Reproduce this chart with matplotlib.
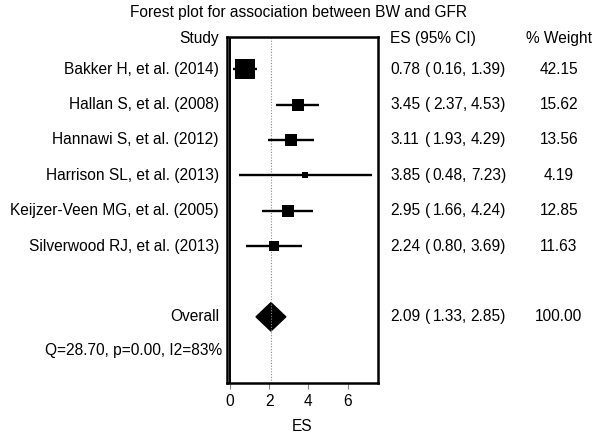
import matplotlib
matplotlib.use("Agg")
import matplotlib.pyplot as plt
from matplotlib.patches import Polygon
import numpy as np

studies = ["Bakker H, et al. (2014)", "Hallan S, et al. (2008)", "Hannawi S, et al. (2012)",
           "Harrison SL, et al. (2013)", "Keijzer-Veen MG, et al. (2005)", "Silverwood RJ, et al. (2013)"]
es = [0.78, 3.45, 3.11, 3.85, 2.95, 2.24]
lo = [0.16, 2.37, 1.93, 0.48, 1.66, 0.80]
hi = [1.39, 4.53, 4.29, 7.23, 4.24, 3.69]
weights = [42.15, 15.62, 13.56, 4.19, 12.85, 11.63]
overall = (2.09, 1.33, 2.85)
overall_weight = 100.00
het_text = "Q=28.70, p=0.00, I2=83%"
title = "Forest plot for association between BW and GFR"
xticks = [0, 2, 4, 6]

W, H = 598, 443
plt.rcParams['font.family'] = ['Liberation Sans', 'DejaVu Sans']
fig = plt.figure(figsize=(W / 100, H / 100), dpi=100)

ax_l, ax_r, ax_t, ax_b = 227, 378, 37, 383
ax = fig.add_axes([ax_l / W, 1 - ax_b / H, (ax_r - ax_l) / W, (ax_b - ax_t) / H])

y_rows = np.arange(1, len(studies) + 1)
y_over = 8.0
y_het = 8.94

ax.set_xlim(-0.15, 7.55)
ax.set_ylim(9.87, 0.09)

ax.axvline(0, color="black", lw=1.4)
ax.axvline(overall[0], color="#888888", lw=0.8, ls=(0, (1, 1.5)))

for y, e, l, h, w in zip(y_rows, es, lo, hi, weights):
    ax.plot([l, h], [y, y], color="black", lw=1.7, solid_capstyle="butt")
    side_px = 3.15 * np.sqrt(w)
    ax.plot([e], [y], marker="s", color="black", markersize=side_px * 0.72, markeredgewidth=0)

dx = 0.40
diamond = Polygon([[overall[1], y_over], [overall[0], y_over - dx], [overall[2], y_over], [overall[0], y_over + dx]],
                  closed=True, color="black")
ax.add_patch(diamond)

fs = 11.2
for s in ax.spines.values():
    s.set_linewidth(1.8)
ax.set_yticks([])
ax.set_xticks(xticks)
ax.tick_params(axis="x", length=4, width=0.8, color="#888888", labelsize=fs, pad=4)
ax.set_xlabel("ES", fontsize=fs, labelpad=7)

def fx(x):
    return x / W

def fy(y):
    return 1 - y / H

fig.text(fx(299), fy(13), title, ha="center", va="center", fontsize=fs)
fig.text(fx(219), fy(38), "Study", ha="right", va="center", fontsize=fs)
fig.text(fx(390), fy(38), "ES (95% CI)", ha="left", va="center", fontsize=fs)
fig.text(fx(559), fy(38), "% Weight", ha="center", va="center", fontsize=fs)

def row_px(y):
    disp = ax.transData.transform((0, y))
    return H - disp[1]

def es_row(y, e, l, h):
    py = row_px(y)
    fig.text(fx(390), fy(py), f"{e:.2f}", ha="left", va="center", fontsize=fs)
    fig.text(fx(425), fy(py), "(", ha="left", va="center", fontsize=fs)
    fig.text(fx(467), fy(py), f"{l:.2f},", ha="right", va="center", fontsize=fs)
    fig.text(fx(506), fy(py), f"{h:.2f})", ha="right", va="center", fontsize=fs)

for y, name, e, l, h, w in zip(y_rows, studies, es, lo, hi, weights):
    py = row_px(y)
    fig.text(fx(219), fy(py), name, ha="right", va="center", fontsize=fs)
    es_row(y, e, l, h)
    fig.text(fx(559), fy(py), f"{w:.2f}", ha="center", va="center", fontsize=fs)

py = row_px(y_over)
fig.text(fx(219), fy(py), "Overall", ha="right", va="center", fontsize=fs)
es_row(y_over, *overall)
fig.text(fx(559), fy(py), f"{overall_weight:.2f}", ha="center", va="center", fontsize=fs)
fig.text(fx(222), fy(row_px(y_het)), het_text, ha="right", va="center", fontsize=fs)

fig.savefig("out.png", dpi=100)
